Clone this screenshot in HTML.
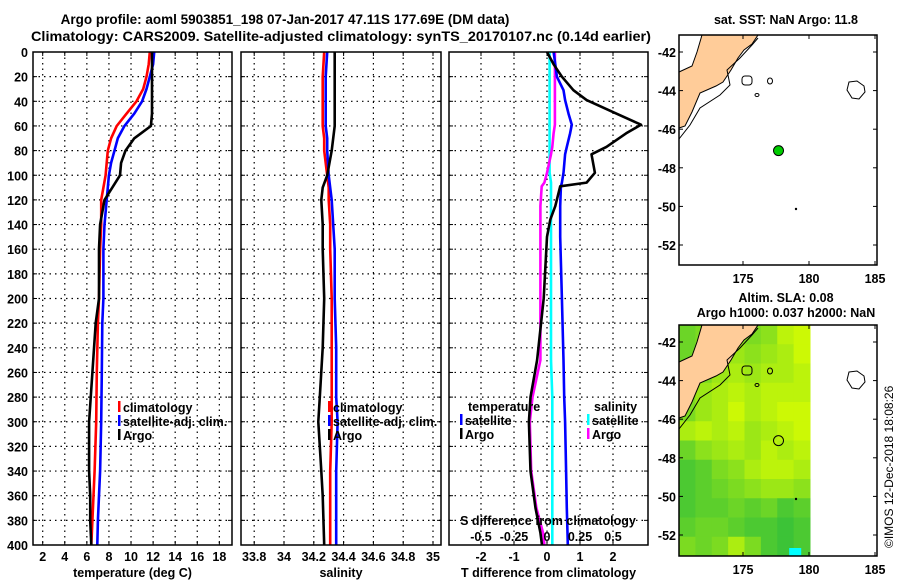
<!DOCTYPE html>
<html><head><meta charset="utf-8"><style>
body{margin:0;background:#fff;}
svg{display:block;font-family:"Liberation Sans",sans-serif;font-weight:bold;}
</style></head><body>
<svg id="fig" width="900" height="580" viewBox="0 0 900 580" xmlns="http://www.w3.org/2000/svg">
<text x="285" y="24" font-size="13.5" text-anchor="middle">Argo profile: aoml 5903851_198 07-Jan-2017 47.11S 177.69E (DM data)</text>
<text x="341" y="41" font-size="13.5" text-anchor="middle" textLength="620" lengthAdjust="spacingAndGlyphs">Climatology: CARS2009. Satellite-adjusted climatology: synTS_20170107.nc (0.14d earlier)</text>
<g id="g"></g>
</svg>
<script>
// ---- profile data ----
const depthsT = [0,10,20,30,40,50,60,70,80,90,100,110,120,140,160,200,220,260,300,340,360,380,400];
const tempClim = [11.7,11.6,11.4,11.1,10.5,9.6,8.7,8.2,7.9,7.8,7.7,7.5,7.3,7.3,7.2,7.1,7.0,6.9,6.85,6.7,6.6,6.5,6.4];
const tempSat  = [12.1,12.0,11.7,11.4,11.0,10.3,9.4,8.8,8.5,8.2,8.0,7.9,7.8,7.6,7.5,7.5,7.4,7.35,7.3,7.2,7.1,7.0,6.95];
const tempArgo = [11.9,11.9,11.9,11.9,11.9,11.9,11.8,10.3,9.5,9.1,9.0,8.3,7.6,7.2,7.1,7.1,6.8,6.5,6.2,6.2,6.3,6.3,6.4];
const depthsS = [0,20,40,60,70,80,100,110,120,140,160,200,240,280,300,340,360,400];
const salClim = [34.27,34.26,34.26,34.26,34.27,34.27,34.29,34.30,34.30,34.31,34.31,34.32,34.32,34.32,34.32,34.31,34.31,34.31];
const salSat  = [34.29,34.28,34.28,34.28,34.29,34.29,34.30,34.31,34.32,34.33,34.34,34.34,34.35,34.35,34.36,34.35,34.35,34.35];
const salArgo = [34.34,34.34,34.34,34.34,34.33,34.32,34.29,34.26,34.25,34.26,34.26,34.27,34.26,34.24,34.23,34.25,34.26,34.27];
const depthsD = [0,10,20,31,39,50,59,66,77,83,98,106,109,125,136,150,200,250,280,300,340,370,390,400];
const dTSat  = [0.2,0.25,0.3,0.5,0.55,0.65,0.75,0.7,0.6,0.55,0.5,0.45,0.42,0.4,0.4,0.4,0.45,0.5,0.52,0.55,0.58,0.6,0.62,0.63];
const dTArgo = [0.0,0.2,0.45,0.8,1.2,2.1,2.85,2.4,1.8,1.35,1.45,1.2,0.4,0.25,0.1,0.0,-0.1,-0.3,-0.5,-0.55,-0.5,-0.35,-0.2,-0.15];
const dSSat  = [0.02,0.02,0.02,0.02,0.02,0.02,0.02,0.02,0.02,0.02,0.02,0.03,0.03,0.03,0.03,0.03,0.03,0.03,0.04,0.04,0.04,0.04,0.04,0.04];
const dSArgo = [0.06,0.06,0.06,0.06,0.06,0.06,0.06,0.05,0.04,0.03,0.0,-0.02,-0.04,-0.05,-0.05,-0.05,-0.05,-0.05,-0.11,-0.13,-0.12,-0.08,-0.03,-0.02];
const depthTicks = [0,20,40,60,80,100,120,140,160,180,200,220,240,260,280,300,320,340,360,380,400];
const tTicks = [2,4,6,8,10,12,14,16,18];
const sTicks = ['33.8','34','34.2','34.4','34.6','34.8','35'];
const dTTicks = [-2,-1,0,1,2];
const dSTicks = ['-0.5','-0.25','0','0.25','0.5'];
// ---- map data ----
const latTicks = [-42,-44,-46,-48,-50,-52];
const lonTicks = [175,180,185];
const argoLon = 177.69, argoLat = -47.11;
// SLA heatmap rows (north to south), 8 cols from 170.3E to 180.2E, values 0(green)..1(yellow)
const slaGrid = [
 [0.3,0.4,0.5,0.5,0.4,0.5,0.8,0.9],
 [0.3,0.4,0.5,0.6,0.5,0.6,0.7,0.9],
 [0.3,0.4,0.6,0.7,0.6,0.7,0.7,0.8],
 [0.4,0.6,0.7,0.8,0.7,0.8,0.8,0.8],
 [0.4,0.6,0.7,0.9,0.7,0.8,0.9,0.9],
 [0.7,0.8,0.7,0.8,0.6,0.7,0.8,0.9],
 [0.3,0.5,0.6,0.7,0.6,0.8,0.7,0.8],
 [0.1,0.2,0.4,0.5,0.7,0.8,0.8,0.7],
 [0.1,0.2,0.3,0.4,0.5,0.6,0.6,0.5],
 [0.1,0.2,0.2,0.3,0.2,0.3,0.1,0.2],
 [0.2,0.3,0.3,0.2,0.1,0.1,0.0,0.1],
 [0.4,0.3,0.4,0.7,0.4,0.1,0.0,0.1]
];

const NS='http://www.w3.org/2000/svg';
const G=document.getElementById('g');
function el(t,a,p){const e=document.createElementNS(NS,t);for(const k in a)e.setAttribute(k,a[k]);(p||G).appendChild(e);return e;}
function txt(s,x,y,a,p){const e=el('text',Object.assign({'font-size':12.5},a),p);e.textContent=s;e.setAttribute('x',x);e.setAttribute('y',y);return e;}

const Y0=52,Y1=545;
const yD=d=>Y0+d*(Y1-Y0)/400;
const xT=t=>42.7+(t-2)*11.04;
const xS=s=>284+(s-34)*149;
const xDT=t=>547+t*33;
const xDS=s=>547+s*132;

function panel(name,x0,x1,ticks,xf,title){
  const p=el('g',{});
  
  
  ticks.forEach(t=>{const x=xf(+t);
    const gl=el('line',{x1:x,x2:x,y1:Y0,y2:Y1,stroke:'#000','stroke-width':1.2,'stroke-dasharray':'1.5,4'},p);
    
    el('line',{x1:x,x2:x,y1:Y1,y2:Y1-4,stroke:'#000'},p);el('line',{x1:x,x2:x,y1:Y0,y2:Y0+4,stroke:'#000'},p);
  });
  depthTicks.forEach(d=>{const y=yD(d);
    if(d>0&&d<400){const gl=el('line',{x1:x0,x2:x1,y1:y,y2:y,stroke:'#000','stroke-width':1.2,'stroke-dasharray':'1.5,4'},p);
    }
    el('line',{x1:x0,x2:x0+4,y1:y,y2:y,stroke:'#000'},p);el('line',{x1:x1,x2:x1-4,y1:y,y2:y,stroke:'#000'},p);
  });
  if(xf===xT||xf===xS){ticks.forEach(t=>{const l=txt(String(t),xf(+t),561,{'text-anchor':'middle'},p);});}
  const tt=txt(title,(x0+x1)/2,577,{'text-anchor':'middle'},p);
  
  return p;
}
function series(p,xs,ds,xf,col,name){
  const pts=xs.map((v,i)=>xf(v).toFixed(1)+','+yD(ds[i]).toFixed(1)).join(' ');
  const l=el('polyline',{points:pts,fill:'none',stroke:col,'stroke-width':2.6,'stroke-linejoin':'round'},p);
  
}
function legend(p,x,y,col,label,name){
  const m=el('rect',{x:x,y:y-11,width:2.5,height:11,fill:col},p);
  const t=txt(label,x+5,y,{},p);
  
}
// Panel 1
const p1=panel('temperature-panel',33,232,tTicks,xT,'temperature (deg C)');
series(p1,tempClim,depthsT,xT,'#f00','climatology-temp-line');
series(p1,tempSat,depthsT,xT,'#00f','satellite-temp-line');
series(p1,tempArgo,depthsT,xT,'#000','argo-temp-line');
depthTicks.forEach(d=>{const l=txt(String(d),28,yD(d)+5,{'text-anchor':'end'},p1);});
legend(p1,118,412,'#f00','climatology','legend-climatology');
legend(p1,118,426,'#00f','satellite-adj. clim.','legend-satellite');
legend(p1,118,440,'#000','Argo','legend-argo');
el('rect',{x:33,y:Y0,width:199,height:Y1-Y0,fill:'none',stroke:'#000','stroke-width':1.5},p1);
// Panel 2
const p2=panel('salinity-panel',241,441,sTicks,xS,'salinity');
series(p2,salClim,depthsS,xS,'#f00','climatology-sal-line');
series(p2,salSat,depthsS,xS,'#00f','satellite-sal-line');
series(p2,salArgo,depthsS,xS,'#000','argo-sal-line');
legend(p2,328,412,'#f00','climatology','legend-climatology');
legend(p2,328,426,'#00f','satellite-adj. clim.','legend-satellite');
legend(p2,328,440,'#000','Argo','legend-argo');
el('rect',{x:241,y:Y0,width:200,height:Y1-Y0,fill:'none',stroke:'#000','stroke-width':1.5},p2);
// Panel 3
const p3=panel('difference-panel',449,648,dTTicks,xDT,'T difference from climatology');
series(p3,dSSat,depthsD,xDS,'#0ff','satellite-sal-diff-line');
series(p3,dSArgo,depthsD,xDS,'#f0f','argo-sal-diff-line');
series(p3,dTSat,depthsD,xDT,'#00f','satellite-temp-diff-line');
series(p3,dTArgo,depthsD,xDT,'#000','argo-temp-diff-line');
dTTicks.forEach(t=>{const l=txt(String(t),xDT(t),561,{'text-anchor':'middle'},p3);});
dSTicks.forEach(t=>{const l=txt(t,xDS(+t),541,{'text-anchor':'middle'},p3);});
const sdt=txt('S difference from climatology',548,525,{'text-anchor':'middle'},p3);

const lt=txt('temperature',468,411,{},p3);
legend(p3,460,425,'#00f','satellite','legend-temp-satellite');
legend(p3,460,439,'#000','Argo','legend-temp-argo');
const ls=txt('salinity',594,411,{},p3);
legend(p3,587,425,'#0ff','satellite','legend-sal-satellite');
legend(p3,587,439,'#f0f','Argo','legend-sal-argo');
el('rect',{x:449,y:Y0,width:199,height:Y1-Y0,fill:'none',stroke:'#000','stroke-width':1.5},p3);

// ---- Maps ----
const MX0=679,MX1=877;
const xLon=l=>743+(l-175)*13.2;
function map(name,top,bottom,off,withSla){
  const m=el('g',{});
  
  const yLat=l=>52+off+(-42-l)*19.3;
  if(withSla){
    const rows=slaGrid.length,cols=slaGrid[0].length,x1=810;
    const cw=(x1-MX0)/cols,ch=(bottom-top)/rows;
    slaGrid.forEach((r,i)=>r.forEach((v,j)=>{
      const rr=Math.round(60+v*160),gg=Math.round(195+v*60),bb=Math.round(55*(1-v));
      const c=el('rect',{x:MX0+j*cw,y:top+i*ch,width:cw+0.5,height:ch+0.5,fill:`rgb(${rr},${gg},${bb})`},m);
      
    }));
    el('rect',{x:xLon(178.5),y:bottom-8,width:12,height:8,fill:'#0ff'},m);
  }
  const o=off;
  const land=el('path',{d:`M679,${128+o} L679,${72+o} L692,${66+o} L697,${52+o} L702,${35+o} L758,${35+o} L752,${44+o} L744,${50+o} L738,${58+o} L731,${70+o} L723,${82+o} L716,${86+o} L700,${93+o} L692,${112+o} L685,${126+o} Z`,fill:'#fc9',stroke:'#000','stroke-width':1},m);
  
  el('path',{d:`M679,${139+o} L690,${125+o} L700,${108+o} L720,${95+o} L730,${85+o} L727,${70+o} L740,${58+o} L752,${45+o} L758,${38+o}`,fill:'none',stroke:'#000','stroke-width':1},m);
  el('rect',{x:742,y:76+o,width:10,height:9,rx:3,fill:'none',stroke:'#000'},m);
  el('ellipse',{cx:770,cy:81+o,rx:2.5,ry:3,fill:'none',stroke:'#000'},m);
  el('ellipse',{cx:757,cy:95+o,rx:2,ry:1.5,fill:'none',stroke:'#000'},m);
  el('path',{d:`M849,${82+o} L857,${81+o} L864,${86+o} L865,${92+o} L859,${99+o} L852,${98+o} L847,${90+o} Z`,fill:'none',stroke:'#000'},m);
  el('circle',{cx:796,cy:209+o,r:1.2,fill:'#000'},m);
  const dot=el('circle',{cx:xLon(argoLon),cy:yLat(argoLat),r:5,fill:withSla?'none':'#0c0',stroke:'#000','stroke-width':1},m);
  
  el('rect',{x:MX0,y:top,width:MX1-MX0,height:bottom-top,fill:'none',stroke:'#000','stroke-width':1.5},m);
  latTicks.forEach(l=>{const y=yLat(l);
    el('line',{x1:MX0,x2:MX0+4,y1:y,y2:y,stroke:'#000'},m);el('line',{x1:MX1,x2:MX1-4,y1:y,y2:y,stroke:'#000'},m);
    const t=txt(String(l),676,y+5,{'text-anchor':'end'},m);});
  lonTicks.forEach(l=>{const x=xLon(l);
    el('line',{x1:x,x2:x,y1:bottom,y2:bottom-4,stroke:'#000'},m);el('line',{x1:x,x2:x,y1:top,y2:top+4,stroke:'#000'},m);
    const t=txt(String(l),x,bottom+18,{'text-anchor':'middle'},m);});
  return m;
}
map('sst-map',35,265,0,false);
map('sla-map',325,556,290,true);
const t1=txt('sat. SST: NaN  Argo: 11.8',786,24,{'text-anchor':'middle','font-size':12.5});
const t2=txt('Altim. SLA: 0.08',786,302,{'text-anchor':'middle','font-size':12.5});
const t3=txt('Argo h1000: 0.037 h2000: NaN',786,317,{'text-anchor':'middle','font-size':12.5});
const cp=txt('©IMOS 12-Dec-2018 18:08:26',0,0,{'font-size':12,'font-weight':'normal','transform':'translate(893,548) rotate(-90)'});

</script>
</body></html>
